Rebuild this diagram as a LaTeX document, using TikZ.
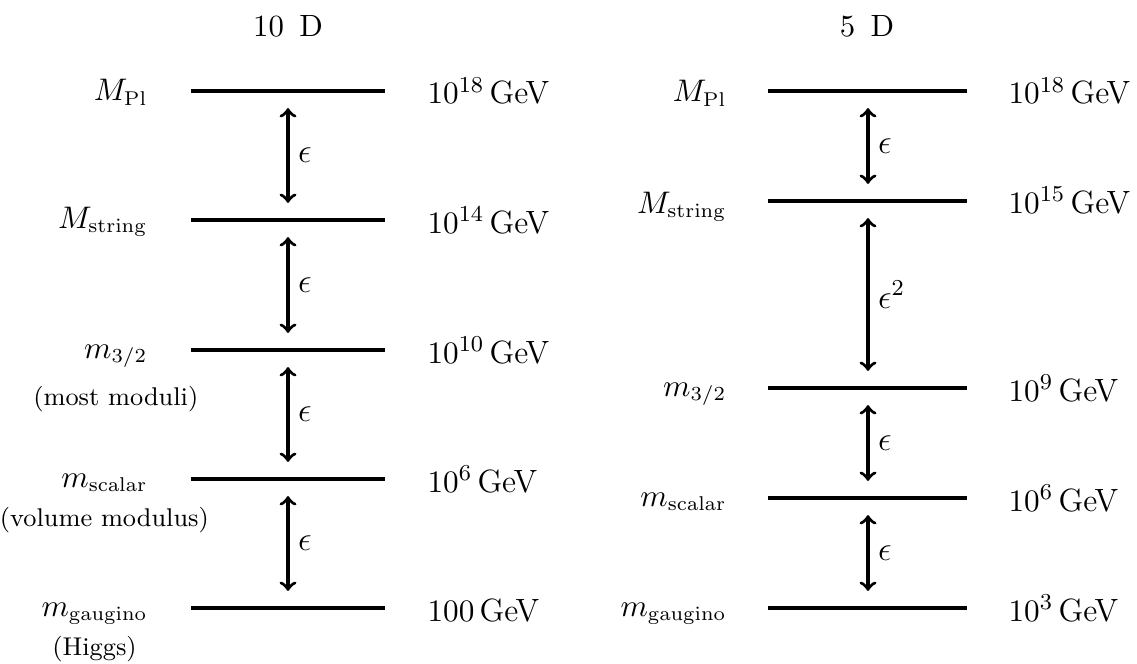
\documentclass[tikz,border=0pt]{standalone}
\usetikzlibrary{calc}
\begin{document}
\begin{tikzpicture}[x=0.3509pt,y=-0.3509pt,
  level/.style={line width=1.25pt},
  gap/.style={line width=1.15pt,<->,shorten <=6pt,shorten >=6pt},
  lab/.style={anchor=base east,inner sep=0pt,font=\fontsize{10.5}{12.6}\selectfont},
  val/.style={anchor=base west,inner sep=0pt,font=\fontsize{11.3}{13.5}\selectfont},
  sub/.style={anchor=base,inner sep=0pt,font=\fontsize{9}{11}\selectfont},
  eps/.style={anchor=west,inner sep=3pt,font=\fontsize{12}{14}\selectfont},
  head/.style={anchor=base,inner sep=0pt,font=\fontsize{10.8}{13}\selectfont}]
\useasboundingbox (0,0) rectangle (1137,664);
% headers
\node[head] (h10) at (288,37) {10\enspace D};
\node[head] (h5) at (867,37) {5\enspace D};
% ---------- 10 D ----------
\foreach \n/\y in {1/91,2/220,3/350,4/479,5/608}{
  \coordinate (La\n) at (191,\y);
  \coordinate (Ra\n) at (385,\y);
  \coordinate (Ma\n) at (288,\y);
  \draw[level] (La\n) -- (Ra\n);
}
\node[lab] (la1) at (148,101) {$M_{\rm Pl}$};
\node[lab] (la2) at (148,228) {$M_{\rm string}$};
\node[lab] (la3) at (148,358) {$m_{3/2}$};
\node[lab] (la4) at (148,487) {$m_{\rm scalar}$};
\node[lab] (la5) at (148,616) {$m_{\rm gaugino}$};
\node[sub] (sa3) at ($(la3.base)+(0,47)$) {(most moduli)};
\node[sub] (sa4) at ($(la4.base)+(0,39)$) {(volume modulus)};
\node[sub] (sa5) at ($(la5.base)+(0,39)$) {(Higgs)};
\node[val] (va1) at (427,104) {$10^{18}\,$GeV};
\node[val] (va2) at (427,233) {$10^{14}\,$GeV};
\node[val] (va3) at (427,363) {$10^{10}\,$GeV};
\node[val] (va4) at (427,492) {$10^{6}\,$GeV};
\node[val] (va5) at (427,621) {$100\,$GeV};
\draw[gap] (Ma1) -- node[eps] (ea1) {$\epsilon$} (Ma2);
\draw[gap] (Ma2) -- node[eps] (ea2) {$\epsilon$} (Ma3);
\draw[gap] (Ma3) -- node[eps] (ea3) {$\epsilon$} (Ma4);
\draw[gap] (Ma4) -- node[eps] (ea4) {$\epsilon$} (Ma5);
% ---------- 5 D ----------
\foreach \n/\y in {1/91,2/201,3/388,4/498,5/608}{
  \coordinate (Lb\n) at (768,\y);
  \coordinate (Rb\n) at (967,\y);
  \coordinate (Mb\n) at (868,\y);
  \draw[level] (Lb\n) -- (Rb\n);
}
\node[lab] (lb1) at (727,102) {$M_{\rm Pl}$};
\node[lab] (lb2) at (727,213) {$M_{\rm string}$};
\node[lab] (lb3) at (727,396) {$m_{3/2}$};
\node[lab] (lb4) at (727,506) {$m_{\rm scalar}$};
\node[lab] (lb5) at (727,616) {$m_{\rm gaugino}$};
\node[val] (vb1) at (1008,104) {$10^{18}\,$GeV};
\node[val] (vb2) at (1008,213) {$10^{15}\,$GeV};
\node[val] (vb3) at (1008,401) {$10^{9}\,$GeV};
\node[val] (vb4) at (1008,511) {$10^{6}\,$GeV};
\node[val] (vb5) at (1008,621) {$10^{3}\,$GeV};
\draw[gap] (Mb1) -- node[eps] (eb1) {$\epsilon$} (Mb2);
\draw[gap] (Mb2) -- node[eps] (eb2) {$\epsilon^2$} (Mb3);
\draw[gap] (Mb3) -- node[eps] (eb3) {$\epsilon$} (Mb4);
\draw[gap] (Mb4) -- node[eps] (eb4) {$\epsilon$} (Mb5);
\end{tikzpicture}
\end{document}
